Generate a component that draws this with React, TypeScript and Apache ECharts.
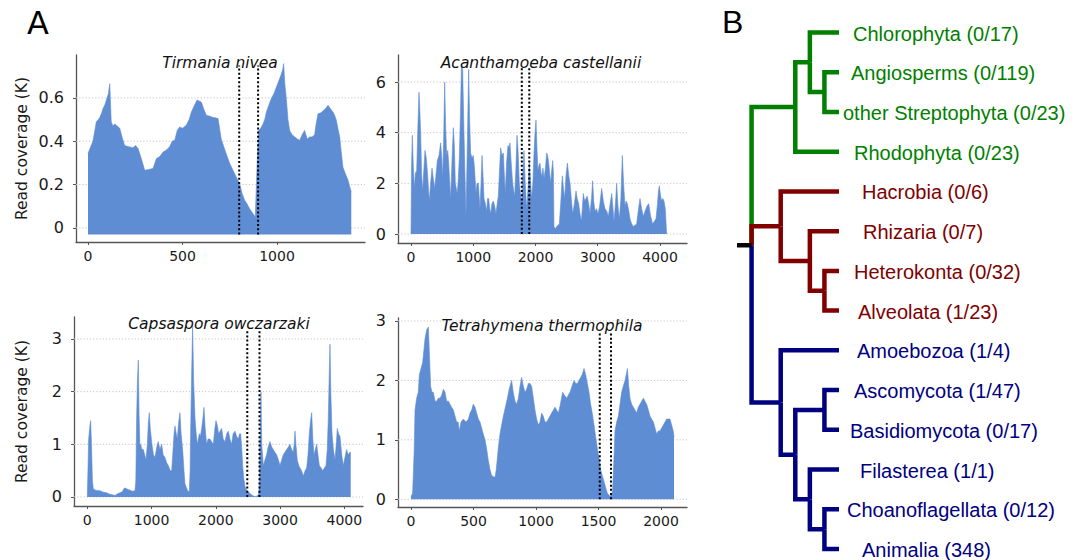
import React, { useEffect, useRef } from "react";
import * as echarts from "echarts";

// ---------- Panel A data: [position, read coverage (K)] ----------
const tirmaniaCoverage: number[][] = [
  [0, 0.343], [12, 0.37], [26, 0.4], [36, 0.45], [44, 0.49], [55, 0.5], [62, 0.51], [72, 0.53], [79, 0.55], [90, 0.57], [97, 0.59], [108, 0.62], [115, 0.666],
  [123, 0.49], [132, 0.47], [141, 0.48], [155, 0.47], [168, 0.46], [180, 0.42], [194, 0.38], [215, 0.375], [238, 0.37], [252, 0.38], [265, 0.366],
  [282, 0.32], [300, 0.266], [322, 0.27], [344, 0.274], [362, 0.32], [380, 0.33], [397, 0.35], [415, 0.36], [432, 0.374], [445, 0.4], [459, 0.405],
  [472, 0.45], [485, 0.466], [500, 0.46], [520, 0.474], [535, 0.5], [547, 0.535], [560, 0.56], [577, 0.59], [590, 0.585], [600, 0.58], [612, 0.55],
  [626, 0.52], [645, 0.515], [661, 0.51], [675, 0.508], [688, 0.505], [705, 0.41], [728, 0.35], [750, 0.297], [776, 0.25], [790, 0.225], [802, 0.205],
  [815, 0.16], [829, 0.128], [842, 0.11], [855, 0.089], [870, 0.07], [885, 0.05], [895, 0.3], [903, 0.45], [914, 0.46], [926, 0.48], [935, 0.5],
  [944, 0.535], [958, 0.57], [970, 0.597], [984, 0.62], [997, 0.65], [1010, 0.68], [1023, 0.71], [1030, 0.73], [1035, 0.758], [1042, 0.66], [1050, 0.59],
  [1058, 0.5], [1067, 0.45], [1080, 0.43], [1094, 0.42], [1108, 0.41], [1120, 0.405], [1133, 0.43], [1146, 0.45], [1160, 0.41], [1173, 0.42],
  [1186, 0.42], [1199, 0.43], [1207, 0.48], [1217, 0.527], [1230, 0.53], [1243, 0.54], [1256, 0.55], [1270, 0.566], [1283, 0.55], [1296, 0.535],
  [1305, 0.52], [1314, 0.497], [1322, 0.46], [1332, 0.42], [1340, 0.35], [1349, 0.28], [1362, 0.25], [1376, 0.22], [1385, 0.19], [1393, 0.166],
];
const acanthamoebaCoverage: number[][] = [
  [0, 0], [8, 2.6], [21, 3.9], [35, 2.8], [54, 1.8], [70, 2.4], [91, 2.5], [110, 4.2], [128, 5.6], [140, 5.0], [155, 4.0], [170, 2.4], [187, 1.7],
  [205, 2.5], [225, 3.3], [245, 3.0], [262, 2.5], [280, 1.8], [294, 1.3], [315, 2.0], [337, 2.6], [358, 2.2], [380, 1.8], [400, 2.3], [423, 2.9],
  [450, 3.1], [476, 3.6], [495, 3.0], [509, 2.2], [525, 3.8], [541, 6.0], [557, 4.2], [573, 3.1], [590, 3.3], [605, 2.8], [620, 2.1], [637, 1.4],
  [660, 3.0], [680, 4.2], [696, 3.5], [712, 2.0], [728, 1.8], [744, 1.6], [760, 2.2], [776, 3.0], [795, 4.8], [810, 6.7], [830, 6.5], [851, 4.0],
  [868, 2.2], [883, 0.7], [905, 3.5], [926, 6.5], [942, 4.5], [958, 3.2], [980, 3.0], [1001, 3.1], [1020, 2.6], [1044, 1.6], [1060, 2.0], [1082, 2.0],
  [1095, 1.5], [1108, 1.0], [1125, 2.0], [1141, 3.1], [1155, 2.4], [1173, 1.4], [1195, 1.2], [1216, 0.9], [1230, 1.4], [1248, 1.4], [1265, 1.0],
  [1280, 0.8], [1300, 1.2], [1323, 1.3], [1345, 1.1], [1365, 0.8], [1385, 1.2], [1403, 1.5], [1420, 2.4], [1440, 3.4], [1462, 3.1], [1483, 3.2],
  [1500, 2.3], [1515, 1.6], [1535, 2.8], [1558, 3.5], [1575, 3.4], [1590, 3.6], [1610, 2.8], [1633, 2.0], [1650, 1.7], [1665, 1.5], [1685, 2.6],
  [1703, 3.9], [1720, 3.3], [1740, 2.0], [1758, 1.6], [1778, 1.2], [1795, 2.4], [1815, 3.3], [1835, 2.0], [1858, 1.0], [1880, 1.8], [1901, 2.8],
  [1920, 2.1], [1938, 1.4], [1958, 2.0], [1976, 3.2], [1990, 3.9], [2008, 4.5], [2025, 3.3], [2040, 2.5], [2055, 2.7], [2072, 2.8], [2090, 2.4],
  [2104, 2.3], [2120, 2.6], [2137, 2.2], [2160, 2.6], [2179, 3.2], [2195, 3.1], [2212, 2.8], [2228, 2.4], [2244, 2.0], [2260, 2.5], [2276, 2.9],
  [2288, 2.4], [2297, 0.3], [2320, 0.2], [2340, 0.3], [2365, 0.35], [2383, 0.4], [2405, 1.2], [2431, 2.3], [2450, 1.8], [2469, 1.4], [2490, 2.3],
  [2512, 2.8], [2535, 2.3], [2555, 2.0], [2575, 1.4], [2597, 0.8], [2625, 1.2], [2651, 1.7], [2670, 1.4], [2694, 1.2], [2715, 0.8], [2737, 0.5],
  [2755, 1.1], [2768, 1.6], [2790, 1.3], [2811, 1.4], [2830, 1.5], [2854, 1.2], [2875, 0.8], [2900, 1.4], [2918, 2.1], [2935, 1.3], [2956, 0.9],
  [2980, 1.0], [3004, 0.8], [3030, 1.1], [3063, 1.8], [3090, 1.3], [3116, 1.0], [3145, 0.9], [3170, 0.7], [3200, 1.2], [3224, 1.6], [3245, 1.0],
  [3261, 0.5], [3285, 1.2], [3304, 2.0], [3325, 1.1], [3347, 0.6], [3370, 1.3], [3395, 3.1], [3415, 2.0], [3438, 1.1], [3455, 1.3], [3475, 1.2],
  [3500, 0.9], [3518, 0.6], [3545, 0.4], [3572, 0.3], [3600, 0.35], [3625, 0.4], [3650, 0.9], [3679, 1.4], [3705, 1.0], [3732, 0.7], [3760, 0.9],
  [3790, 1.1], [3818, 1.2], [3850, 0.7], [3882, 0.4], [3910, 0.5], [3936, 0.6], [3960, 1.2], [3975, 1.7], [3990, 1.9], [4010, 1.5], [4027, 1.3],
  [4045, 1.4], [4064, 1.3], [4085, 1.0], [4096, 0.5], [4107, 0],
];
const capsasporaCoverage: number[][] = [
  [0, 0], [12, 0.6], [21, 1.1], [40, 1.35], [52, 1.45], [65, 1.0], [80, 0.3], [93, 0.15], [130, 0.13], [170, 0.12], [197, 0.12], [250, 0.09],
  [300, 0.08], [353, 0.05], [400, 0.04], [431, 0.03], [470, 0.06], [508, 0.08], [545, 0.1], [570, 0.16], [586, 0.17], [620, 0.15], [664, 0.13],
  [700, 0.11], [742, 0.12], [755, 0.3], [768, 1.5], [780, 2.2], [794, 2.6], [805, 1.6], [818, 1.0], [830, 1.0], [850, 0.9], [872, 0.9], [893, 0.8],
  [913, 0.7], [935, 1.0], [950, 1.4], [965, 1.6], [980, 1.3], [1006, 1.0], [1030, 0.8], [1053, 0.75], [1075, 0.9], [1090, 1.0], [1105, 1.05],
  [1130, 0.9], [1157, 1.0], [1180, 0.8], [1209, 0.75], [1235, 0.65], [1261, 0.6], [1290, 0.5], [1313, 0.5], [1335, 0.9], [1350, 1.2], [1364, 1.35],
  [1385, 1.2], [1401, 1.1], [1420, 1.4], [1442, 1.6], [1460, 1.2], [1484, 0.9], [1505, 0.5], [1520, 0.25], [1536, 0.2], [1560, 0.12], [1588, 0.1],
  [1600, 0.5], [1608, 1.2], [1625, 2.4], [1639, 3.25], [1655, 2.2], [1676, 1.5], [1695, 1.2], [1712, 1.0], [1728, 1.1], [1743, 1.2], [1760, 1.15],
  [1780, 1.3], [1800, 1.5], [1816, 1.7], [1835, 1.3], [1857, 1.0], [1880, 1.1], [1909, 1.1], [1935, 1.05], [1961, 1.0], [1985, 1.3], [2003, 1.45],
  [2025, 1.35], [2044, 1.2], [2065, 1.25], [2091, 1.3], [2115, 1.1], [2143, 1.05], [2170, 1.2], [2195, 1.25], [2220, 1.1], [2246, 1.0], [2270, 1.2],
  [2298, 1.25], [2325, 1.15], [2350, 1.1], [2370, 1.2], [2387, 1.2], [2405, 0.9], [2418, 0.6], [2435, 0.35], [2454, 0.2], [2480, 0.13], [2506, 0.1],
  [2545, 0.05], [2584, 0.02], [2620, 0.01], [2646, 0.02], [2665, 0.05], [2677, 0.2], [2690, 1.2], [2703, 2.0], [2715, 1.0], [2739, 0.6], [2765, 0.7],
  [2791, 0.8], [2815, 0.95], [2843, 1.05], [2870, 0.95], [2895, 0.9], [2920, 0.85], [2947, 0.8], [2975, 0.7], [2999, 0.6], [3025, 0.7], [3050, 0.8],
  [3075, 0.85], [3102, 0.9], [3130, 0.95], [3154, 1.0], [3180, 0.9], [3206, 0.85], [3220, 1.0], [3232, 1.25], [3250, 0.95], [3268, 0.7], [3290, 0.6],
  [3310, 0.55], [3335, 0.5], [3362, 0.4], [3390, 0.5], [3414, 0.55], [3435, 0.8], [3455, 1.2], [3475, 1.45], [3492, 1.6], [3510, 1.1], [3528, 0.8],
  [3550, 0.9], [3570, 1.0], [3590, 0.8], [3611, 0.6], [3640, 0.55], [3663, 0.5], [3690, 0.55], [3715, 0.6], [3735, 0.9], [3751, 1.5], [3765, 2.3],
  [3777, 2.9], [3790, 2.0], [3809, 1.2], [3830, 0.9], [3855, 0.7], [3875, 1.0], [3891, 1.3], [3910, 1.2], [3933, 1.15], [3960, 0.8], [3984, 0.6],
  [4010, 0.75], [4036, 0.9], [4060, 0.8], [4088, 0.85], [4100, 0.85],
];
const tetrahymenaCoverage: number[][] = [
  [0, 0.05], [13, 0.1], [25, 0.8], [32, 1.5], [45, 1.7], [58, 1.8], [67, 2.1], [80, 2.2], [93, 2.3], [105, 2.55], [112, 2.7], [125, 2.85], [139, 2.9],
  [148, 2.4], [157, 1.9], [168, 1.8], [179, 1.8], [192, 1.65], [205, 1.65], [218, 1.7], [232, 1.7], [245, 1.75], [259, 1.85], [272, 1.8], [285, 1.65],
  [300, 1.65], [312, 1.6], [325, 1.55], [339, 1.5], [352, 1.4], [365, 1.3], [377, 1.3], [387, 1.15], [400, 1.3], [419, 1.35], [440, 1.3], [459, 1.35],
  [472, 1.45], [485, 1.5], [498, 1.6], [512, 1.55], [525, 1.45], [539, 1.35], [552, 1.3], [565, 1.2], [578, 1.1], [592, 1.0], [605, 0.85], [619, 0.65],
  [632, 0.5], [645, 0.4], [660, 0.38], [672, 0.37], [682, 0.5], [691, 0.7], [700, 0.9], [712, 1.1], [725, 1.25], [739, 1.4], [755, 1.55], [771, 1.7],
  [785, 1.85], [798, 1.95], [805, 2.0], [818, 1.8], [832, 1.65], [845, 1.6], [859, 1.7], [872, 1.9], [885, 2.05], [899, 1.9], [912, 1.8], [925, 1.85],
  [939, 1.95], [952, 1.95], [965, 1.9], [979, 1.7], [992, 1.5], [1005, 1.35], [1019, 1.25], [1032, 1.3], [1045, 1.45], [1058, 1.4], [1072, 1.3],
  [1085, 1.3], [1099, 1.35], [1112, 1.4], [1125, 1.45], [1139, 1.5], [1152, 1.55], [1165, 1.5], [1179, 1.45], [1195, 1.6], [1213, 1.8], [1228, 1.75],
  [1245, 1.7], [1258, 1.75], [1272, 1.8], [1288, 1.9], [1304, 2.0], [1318, 1.95], [1331, 1.95], [1344, 2.0], [1357, 2.05], [1370, 2.1], [1384, 2.2],
  [1397, 2.1], [1411, 1.95], [1424, 1.8], [1437, 1.6], [1450, 1.45], [1464, 1.25], [1477, 1.05], [1491, 0.85], [1504, 0.7], [1517, 0.5], [1530, 0.4],
  [1544, 0.3], [1557, 0.2], [1571, 0.1], [1592, 0.05], [1605, 0.08], [1613, 0.15], [1622, 0.6], [1632, 1.15], [1645, 1.3], [1659, 1.4], [1672, 1.6],
  [1685, 1.8], [1698, 1.9], [1712, 2.0], [1722, 2.1], [1731, 2.2], [1742, 1.9], [1752, 1.7], [1765, 1.6], [1779, 1.55], [1792, 1.5], [1805, 1.45],
  [1818, 1.55], [1832, 1.6], [1845, 1.65], [1859, 1.7], [1872, 1.65], [1885, 1.6], [1899, 1.5], [1912, 1.4], [1925, 1.35], [1939, 1.3], [1952, 1.2],
  [1965, 1.1], [1979, 1.15], [1992, 1.15], [2005, 1.2], [2019, 1.25], [2032, 1.3], [2045, 1.35], [2059, 1.35], [2072, 1.35], [2085, 1.25],
  [2098, 1.15], [2104, 1.05],
];

const panelTitles = ["Tirmania nivea", "Acanthamoeba castellanii", "Capsaspora owczarzaki", "Tetrahymena thermophila"];
const tirmaniaCuts = [800, 900];
const acanthamoebaCuts = [1780, 1900];
const capsasporaCuts = [2490, 2680];
const tetrahymenaCuts = [1510, 1600];
const cutTops = [0.75, 6.55, 3.19, 2.8];
const areaBaselines = [-0.03, 0, 0, 0];
const tirmaniaXTicks = [0, 500, 1000];
const tirmaniaYTicks = [0, 0.2, 0.4, 0.6];
const acanthamoebaXTicks = [0, 1000, 2000, 3000, 4000];
const acanthamoebaYTicks = [0, 2, 4, 6];
const capsasporaXTicks = [0, 1000, 2000, 3000, 4000];
const capsasporaYTicks = [0, 1, 2, 3];
const tetrahymenaXTicks = [0, 500, 1000, 1500, 2000];
const tetrahymenaYTicks = [0, 1, 2, 3];
const yAxisTitle = "Read coverage (K)";

// ---------- Panel B data: tree ----------
const leafNames = [
  "Chlorophyta", "Angiosperms", "other Streptophyta", "Rhodophyta",
  "Hacrobia", "Rhizaria", "Heterokonta", "Alveolata",
  "Amoebozoa", "Ascomycota", "Basidiomycota", "Filasterea", "Choanoflagellata", "Animalia",
];
const leafCounts = ["0/17", "0/119", "0/23", "0/23", "0/6", "0/7", "0/32", "1/23", "1/4", "1/47", "0/17", "1/1", "0/12", "348"];
// nested clades; numbers are leaf indices, depth is the node level
const treeTopology: any = {
  depth: 0,
  children: [
    { depth: 3, children: [{ depth: 4, children: [0, { depth: 5, children: [1, 2] }] }, 3] },
    { depth: 2, children: [4, { depth: 4, children: [5, { depth: 5, children: [6, 7] }] }] },
    { depth: 2, children: [8, { depth: 3, children: [{ depth: 5, children: [9, 10] }, { depth: 4, children: [11, { depth: 5, children: [12, 13] }] }] }] },
  ],
};
const tipDepth = 6;
const rootStubDepth = -1;

// ---------- styles / layout ----------
const FONT = '"DejaVu Sans", sans-serif';
const TREE_FONT = '"Liberation Sans", Arial, sans-serif';
const AREA_COLOR = "#5f8dd3";
const CLADE_COLORS = ["#008000", "#800000", "#000080", "#000000"];
const LABEL_DX = [14, 12, 4, 15, 23, 24, 15, 19, 18, 15, 11, 21, 8, 23];

const LAYOUT = [
  { left: 76, top: 55, width: 289, height: 187, x: [-63.5, 1465.6], y: [-0.065, 0.798], tx: 220, ty: 63, nameGap: 46 },
  { left: 398, top: 55, width: 289, height: 188, x: [-209, 4434], y: [-0.355, 7.07], tx: 541, ty: 63, nameGap: 0 },
  { left: 74, top: 317, width: 289, height: 189, x: [-207, 4291], y: [-0.171, 3.417], tx: 219, ty: 324, nameGap: 44 },
  { left: 398, top: 318, width: 289, height: 189, x: [-104, 2208], y: [-0.13, 3.05], tx: 542, ty: 326, nameGap: 0 },
];

const PANELS = [
  { data: tirmaniaCoverage, cuts: tirmaniaCuts, xTicks: tirmaniaXTicks, yTicks: tirmaniaYTicks, yName: true },
  { data: acanthamoebaCoverage, cuts: acanthamoebaCuts, xTicks: acanthamoebaXTicks, yTicks: acanthamoebaYTicks, yName: false },
  { data: capsasporaCoverage, cuts: capsasporaCuts, xTicks: capsasporaXTicks, yTicks: capsasporaYTicks, yName: true },
  { data: tetrahymenaCoverage, cuts: tetrahymenaCuts, xTicks: tetrahymenaXTicks, yTicks: tetrahymenaYTicks, yName: false },
];

function buildTree() {
  const segments: number[][] = [];
  const leafClade: number[] = [];
  const place = (node: any, clade: number): number => {
    if (typeof node === "number") {
      leafClade[node] = clade;
      return node;
    }
    const ys = node.children.map((c: any) => place(c, clade));
    node.y = ys.reduce((a: number, b: number) => a + b, 0) / ys.length;
    node.ys = ys;
    return node.y;
  };
  const emit = (node: any, clade: number) => {
    node.children.forEach((c: any, k: number) => {
      const cy = node.ys[k];
      const cd = typeof c === "number" ? tipDepth : c.depth;
      segments.push([node.depth, node.y, node.depth, cy, cd, cy, clade]);
      if (typeof c !== "number") emit(c, clade);
    });
  };
  const rootYs = treeTopology.children.map((c: any, i: number) => place(c, i));
  treeTopology.y = rootYs.reduce((a: number, b: number) => a + b, 0) / rootYs.length;
  treeTopology.children.forEach((c: any, i: number) => {
    segments.push([0, treeTopology.y, 0, c.y, c.depth, c.y, i]);
    emit(c, i);
  });
  segments.push([rootStubDepth, treeTopology.y, rootStubDepth, treeTopology.y, 0, treeTopology.y, 3]);
  return { segments, leafClade };
}

function buildOption() {
  const grid: any[] = [];
  const xAxis: any[] = [];
  const yAxis: any[] = [];
  const series: any[] = [];
  const graphic: any[] = [];

  PANELS.forEach((p, i) => {
    const L = LAYOUT[i];
    grid.push({ left: L.left, top: L.top, width: L.width, height: L.height });
    xAxis.push({
      type: "value", gridIndex: i, min: L.x[0], max: L.x[1],
      axisLine: { show: true, onZero: false, lineStyle: { color: "#555", width: 1.3 } },
      axisTick: { show: true, customValues: p.xTicks, length: 3, lineStyle: { color: "#555", width: 1 } },
      axisLabel: { customValues: p.xTicks, fontSize: 14, color: "#1a1a1a", fontFamily: FONT, margin: 7, formatter: (v: number) => String(v) },
      splitLine: { show: false },
    });
    yAxis.push({
      type: "value", gridIndex: i, min: L.y[0], max: L.y[1],
      name: p.yName ? yAxisTitle : "", nameLocation: "middle", nameGap: L.nameGap,
      nameTextStyle: { fontSize: 15.5, color: "#1a1a1a", fontFamily: FONT },
      axisLine: { show: true, onZero: false, lineStyle: { color: "#555", width: 1.3 } },
      axisTick: { show: true, customValues: p.yTicks, length: 3, lineStyle: { color: "#555", width: 1 } },
      axisLabel: { customValues: p.yTicks, fontSize: 16, color: "#1a1a1a", fontFamily: FONT, margin: 12, formatter: (v: number) => String(v) },
      splitLine: { show: false },
    });
    p.yTicks.forEach((v) => {
      series.push({
        type: "line", xAxisIndex: i, yAxisIndex: i, data: [[L.x[0], v], [L.x[1], v]], symbol: "none", silent: true,
        lineStyle: { color: "#c4c4c4", width: 1, type: [1.2, 2] }, z: 1,
      });
    });
    series.push({
      type: "line", xAxisIndex: i, yAxisIndex: i, data: p.data, symbol: "none", silent: true,
      lineStyle: { color: AREA_COLOR, width: 0.6 },
      areaStyle: { color: AREA_COLOR, opacity: 1, origin: areaBaselines[i] }, z: 2,
    });
    p.cuts.forEach((c) => {
      series.push({
        type: "line", xAxisIndex: i, yAxisIndex: i, data: [[c, areaBaselines[i]], [c, cutTops[i]]], symbol: "none", silent: true,
        lineStyle: { color: "#000", width: 2, type: [2, 2.2] }, z: 3,
      });
    });
    graphic.push({
      type: "text", x: L.tx, y: L.ty, z: 10, silent: true,
      style: { text: panelTitles[i], font: `italic 15.5px ${FONT}`, fill: "#111", textAlign: "center", textVerticalAlign: "middle", align: "center", verticalAlign: "middle" },
    });
  });

  // tree
  const { segments, leafClade } = buildTree();
  grid.push({ left: 737, top: 32.5, width: 102, height: 516.5 });
  xAxis.push({ type: "value", gridIndex: 4, min: rootStubDepth, max: tipDepth, show: false });
  yAxis.push({ type: "value", gridIndex: 4, min: 0, max: leafNames.length - 1, inverse: true, show: false });
  series.push({
    type: "custom", xAxisIndex: 4, yAxisIndex: 4, coordinateSystem: "cartesian2d", data: segments,
    encode: { x: [0, 2, 4], y: [1, 3, 5] }, clip: false, silent: true,
    renderItem: (params: any, api: any) => {
      const a = api.coord([api.value(0), api.value(1)]);
      const b = api.coord([api.value(2), api.value(3)]);
      const c = api.coord([api.value(4), api.value(5)]);
      return {
        type: "polyline",
        shape: { points: [a, b, c] },
        style: { stroke: CLADE_COLORS[api.value(6)], lineWidth: 4.5, fill: null, lineJoin: "miter", lineCap: "butt" },
      };
    },
  });
  series.push({
    type: "custom", xAxisIndex: 4, yAxisIndex: 4, coordinateSystem: "cartesian2d", clip: false, silent: true,
    data: leafNames.map((n, i) => [tipDepth, i, i]),
    encode: { x: 0, y: 1 },
    renderItem: (params: any, api: any) => {
      const k = api.value(2);
      const pt = api.coord([api.value(0), api.value(1)]);
      return {
        type: "text",
        x: pt[0] + LABEL_DX[k],
        y: pt[1] + 1,
        style: {
          text: `${leafNames[k]} (${leafCounts[k]})`,
          fill: CLADE_COLORS[leafClade[k]],
          font: `20px ${TREE_FONT}`,
          textAlign: "left", textVerticalAlign: "middle", align: "left", verticalAlign: "middle",
        },
      };
    },
  });

  graphic.push({
    type: "text", x: 27, y: 23, silent: true,
    style: { text: "A", font: `32px ${FONT}`, fill: "#000", textAlign: "left", textVerticalAlign: "middle", align: "left", verticalAlign: "middle" },
  });
  graphic.push({
    type: "text", x: 722, y: 22, silent: true,
    style: { text: "B", font: `32px ${TREE_FONT}`, fill: "#000", textAlign: "left", textVerticalAlign: "middle", align: "left", verticalAlign: "middle" },
  });

  return { animation: false, backgroundColor: "#fff", grid, xAxis, yAxis, series, graphic };
}

export default function App() {
  const ref = useRef<HTMLDivElement>(null);
  useEffect(() => {
    if (!ref.current) return;
    const chart = echarts.init(ref.current, null, { renderer: "svg" });
    chart.setOption(buildOption() as any);
    return () => chart.dispose();
  }, []);
  return <div ref={ref} style={{ position: "fixed", left: 0, top: 0, width: 1084, height: 560, background: "#fff" }} />;
}
